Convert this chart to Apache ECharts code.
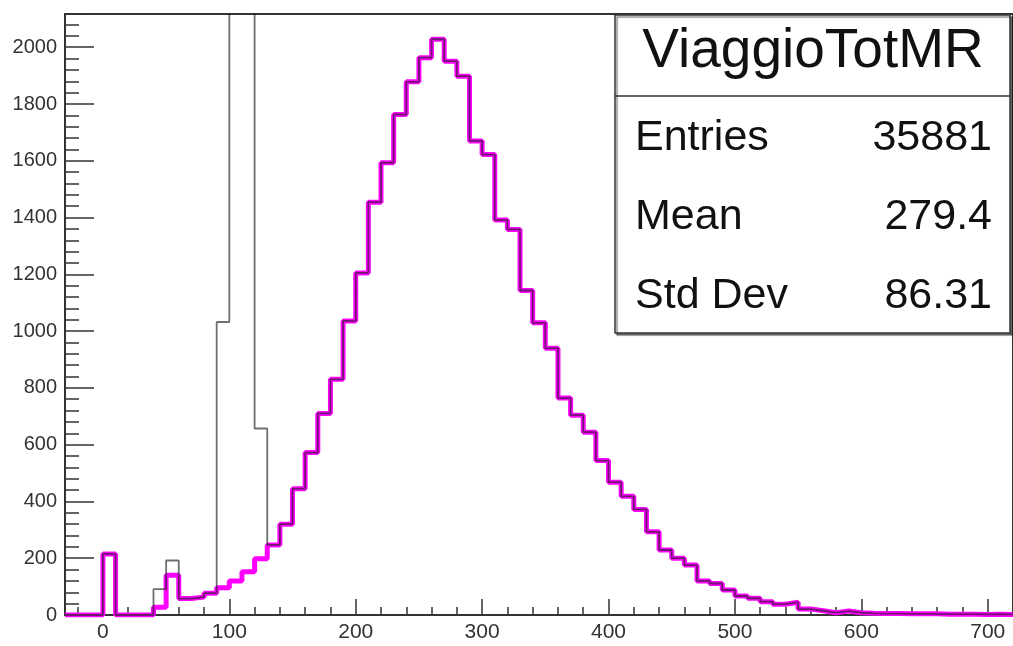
<!DOCTYPE html>
<html>
<head>
<meta charset="utf-8">
<script src="https://cdn.jsdelivr.net/npm/echarts@6/dist/echarts.min.js"></script>
<style>
html,body{margin:0;padding:0;background:#fff;}
#chart{width:1013px;height:646px;}
</style>
</head>
<body>
<div id="chart"></div>
<script>
// Bin edges (width 10) from -30 to 720
const binEdges = [-30,-20,-10,0,10,20,30,40,50,60,70,80,90,100,110,120,130,140,150,160,170,180,190,200,210,220,230,240,250,260,270,280,290,300,310,320,330,340,350,360,370,380,390,400,410,420,430,440,450,460,470,480,490,500,510,520,530,540,550,560,570,580,590,600,610,620,630,640,650,660,670,680,690,700,710,720];

// ViaggioTotMR (magenta) contents per bin (bin left edges -30 ... 710)
const viaggioTotMR = [0,0,0,215,0,0,0,27,140,58,63,77,96,120,152,198,247,320,445,572,710,830,1036,1205,1454,1593,1763,1878,1963,2028,1951,1898,1670,1622,1391,1358,1143,1029,940,764,704,644,544,468,418,372,293,229,200,176,120,111,88,67,59,47,38,45,21,15,8,14,8,6,5,5,4,4,4,3,3,3,2,3,2];

// Second (black) histogram contents per bin
const otherHist = [0,0,0,215,0,0,0,91,192,58,63,77,1032,3900,4300,657,247,320,445,572,710,830,1036,1205,1454,1593,1763,1878,1963,2028,1951,1898,1670,1622,1391,1358,1143,1029,940,764,704,644,544,468,418,372,293,229,200,176,120,111,88,67,59,47,38,45,21,15,8,14,8,6,5,5,4,4,4,3,3,3,2,3,2];

const statsTitle = 'ViaggioTotMR';
const statsNames = ['Entries', 'Mean', 'Std Dev'];
const statsValues = ['35881', '279.4', '86.31'];

const FONT = 'Liberation Sans, Arial, Helvetica, sans-serif';
const withEnd = arr => arr.concat([arr[arr.length - 1]]);
const cats = binEdges.map(String);
const isMajor = (i, v) => Number(v) % 100 === 0;
const isMinor = (i, v) => Number(v) % 20 === 0;

const chart = echarts.init(document.getElementById('chart'), null, {renderer: 'canvas'});

const rowY = [138, 217, 296];
const graphics = [
  {type: 'rect', z: 100, shape: {x: 615, y: 15, width: 395, height: 318},
   style: {fill: '#fff', stroke: '#333', lineWidth: 1.5, shadowColor: 'rgba(0,0,0,0.45)', shadowOffsetX: 2, shadowOffsetY: 2, shadowBlur: 1}},
  {type: 'line', z: 101, shape: {x1: 615, y1: 96, x2: 1010, y2: 96}, style: {stroke: '#333', lineWidth: 1.5}},
  {type: 'text', z: 102, style: {text: statsTitle, x: 813, y: 52, fontSize: 55, fontFamily: FONT, fill: '#111', align: 'center', verticalAlign: 'middle'}}
];
statsNames.forEach((n, i) => {
  graphics.push({type: 'text', z: 102, style: {text: n, x: 635, y: rowY[i], fontSize: 43, fontFamily: FONT, fill: '#111', align: 'left', verticalAlign: 'middle'}});
  graphics.push({type: 'text', z: 102, style: {text: statsValues[i], x: 992, y: rowY[i], fontSize: 43, fontFamily: FONT, fill: '#111', align: 'right', verticalAlign: 'middle'}});
});

const option = {
  animation: false,
  backgroundColor: '#fff',
  grid: {left: 65, right: 0, top: 14, bottom: 31, show: true, borderColor: '#333', borderWidth: 2, backgroundColor: 'transparent'},
  xAxis: [
    {type: 'category', data: cats, boundaryGap: false, position: 'bottom',
     axisLine: {show: true, lineStyle: {color: '#333', width: 2}},
     axisTick: {show: true, inside: true, length: 16, interval: isMajor, lineStyle: {color: '#333', width: 1.5}},
     axisLabel: {show: true, interval: isMajor, margin: 7, fontSize: 21, fontFamily: FONT, color: '#333'},
     splitLine: {show: false}},
    {type: 'category', data: cats, boundaryGap: false, position: 'bottom',
     axisLine: {show: false},
     axisTick: {show: true, inside: true, length: 8, interval: isMinor, lineStyle: {color: '#333', width: 1.5}},
     axisLabel: {show: false},
     splitLine: {show: false}}
  ],
  yAxis: [
    {type: 'value', min: 0, max: 2117, interval: 200, position: 'left',
     axisLine: {show: true, lineStyle: {color: '#333', width: 2}},
     axisTick: {show: true, inside: true, length: 29, lineStyle: {color: '#333', width: 1.5}},
     axisLabel: {show: true, margin: 8, fontSize: 20, fontFamily: FONT, color: '#333',
                 formatter: v => (v % 200 === 0 ? String(v) : '')},
     splitLine: {show: false}},
    {type: 'value', min: 0, max: 2117, interval: 40, position: 'left',
     axisLine: {show: false},
     axisTick: {show: true, inside: true, length: 14, lineStyle: {color: '#333', width: 1.5}},
     axisLabel: {show: false},
     splitLine: {show: false}}
  ],
  series: [
    {type: 'line', name: 'ViaggioTotMR', xAxisIndex: 0, yAxisIndex: 0, step: 'end', symbol: 'none',
     data: withEnd(viaggioTotMR), z: 3, lineStyle: {color: '#ff00ff', width: 5}},
    {type: 'line', name: 'other', xAxisIndex: 0, yAxisIndex: 0, step: 'end', symbol: 'none',
     data: withEnd(otherHist), z: 4, lineStyle: {color: '#222', width: 1.8, opacity: 0.65}}
  ],
  graphic: {elements: graphics}
};
chart.setOption(option);
</script>
</body>
</html>
